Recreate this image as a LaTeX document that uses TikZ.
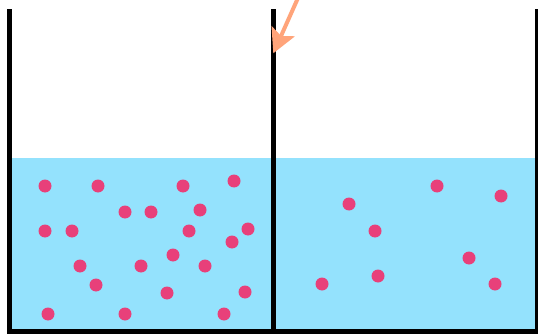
\documentclass[tikz,border=0pt]{standalone}
\usetikzlibrary{arrows.meta}
\definecolor{water}{RGB}{148,226,253}
\definecolor{dotc}{RGB}{232,64,122}
\definecolor{arrowc}{RGB}{255,164,122}
\tikzset{
  wall/.style={fill=black, draw=none},
  particle/.style={circle, fill=dotc, draw=none, minimum size=13pt, inner sep=0pt},
  pointer/.style={draw=arrowc, line width=4pt, -{Stealth[length=24pt,width=25pt,inset=5pt]}}
}
\begin{document}
\begin{tikzpicture}[x=1pt,y=-1pt]
\useasboundingbox (0,0) rectangle (538,334);
\fill[white] (0,0) rectangle (538,334);
% water
\fill[water] (12,157.5) rectangle (535,329);
% particles left
\foreach \px/\py [count=\i] in {45/186,98/186,183/186,234/181,125/212,151/212,200/210,45/231,72/231,189/231,248/229,232/242,80/266,141/266,173/255,205/266,96/285,167/293,245/292,48/314,125/314,224/314}
  \node[particle] (l\i) at (\px,\py) {};
% particles right
\foreach \px/\py [count=\i] in {437/186,501/196,349/204,375/231,469/258,322/284,378/276,495/284}
  \node[particle] (r\i) at (\px,\py) {};
% walls
\fill[wall] (7,9) rectangle (12,334);
\fill[wall] (271,9) rectangle (276,334);
\fill[wall] (535,9) rectangle (538,334);
\fill[wall] (7,329) rectangle (538,334);
% arrow
\coordinate (s) at (299.3,-5);
\coordinate (t) at (273.3,53.3);
\draw[pointer] (s) -- (t);
\end{tikzpicture}
\end{document}
